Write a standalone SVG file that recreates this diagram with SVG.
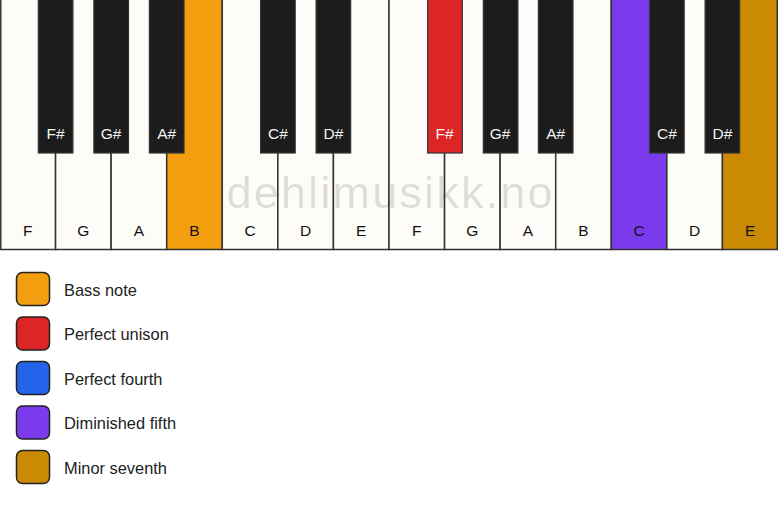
<svg xmlns="http://www.w3.org/2000/svg" width="778" height="506" viewBox="0 0 778 506">
<style>
.w{fill:#FDFCF9;stroke:#333;stroke-width:1.5}
.b{fill:#1C1C1C;stroke:#333;stroke-width:1.2}
.t{font-family:"Liberation Sans",Arial,sans-serif;font-size:15.5px;text-anchor:middle}
.wl{fill:#111}
.bl{fill:#F2F2F2}
.lg{stroke:#222;stroke-width:1.5}
.lt{font-family:"Liberation Sans",Arial,sans-serif;font-size:16.4px;fill:#222}
.wm{font-family:"Liberation Sans",Arial,sans-serif;font-size:45px;fill:#000;fill-opacity:0.12}
</style>
<rect width="778" height="506" fill="#FFFFFF"/>
<g id="white-keys">
<g id="k-F1"><rect class="w" x="0.75" y="-1" width="54.82" height="250.5"/><text class="t wl" x="27.8" y="236">F</text></g>
<g id="k-G1"><rect class="w" x="55.57" y="-1" width="55.57" height="250.5"/><text class="t wl" x="83.4" y="236">G</text></g>
<g id="k-A1"><rect class="w" x="111.14" y="-1" width="55.57" height="250.5"/><text class="t wl" x="138.9" y="236">A</text></g>
<g id="k-B1"><rect class="w" style="fill:#F39E0E" x="166.71" y="-1" width="55.57" height="250.5"/><text class="t wl" x="194.5" y="236">B</text></g>
<g id="k-C1"><rect class="w" x="222.28" y="-1" width="55.57" height="250.5"/><text class="t wl" x="250.1" y="236">C</text></g>
<g id="k-D1"><rect class="w" x="277.85" y="-1" width="55.57" height="250.5"/><text class="t wl" x="305.6" y="236">D</text></g>
<g id="k-E1"><rect class="w" x="333.42" y="-1" width="55.57" height="250.5"/><text class="t wl" x="361.2" y="236">E</text></g>
<g id="k-F2"><rect class="w" x="389" y="-1" width="55.57" height="250.5"/><text class="t wl" x="416.8" y="236">F</text></g>
<g id="k-G2"><rect class="w" x="444.57" y="-1" width="55.57" height="250.5"/><text class="t wl" x="472.4" y="236">G</text></g>
<g id="k-A2"><rect class="w" x="500.14" y="-1" width="55.57" height="250.5"/><text class="t wl" x="527.9" y="236">A</text></g>
<g id="k-B2"><rect class="w" x="555.71" y="-1" width="55.57" height="250.5"/><text class="t wl" x="583.5" y="236">B</text></g>
<g id="k-C2"><rect class="w" style="fill:#7C3AED" x="611.28" y="-1" width="55.57" height="250.5"/><text class="t wl" x="639.1" y="236">C</text></g>
<g id="k-D2"><rect class="w" x="666.85" y="-1" width="55.57" height="250.5"/><text class="t wl" x="694.6" y="236">D</text></g>
<g id="k-E2"><rect class="w" style="fill:#CA8A04" x="722.42" y="-1" width="54.83" height="250.5"/><text class="t wl" x="750.2" y="236">E</text></g>
</g>
<text class="wm" x="389.5" y="207.5" text-anchor="middle" textLength="326" lengthAdjust="spacing">dehlimusikk.no</text>
<g id="black-keys">
<g id="k-Fs1"><rect class="b" x="38.3" y="-1" width="34.6" height="154"/><text class="t bl" x="55.6" y="138.5">F#</text></g>
<g id="k-Gs1"><rect class="b" x="93.9" y="-1" width="34.6" height="154"/><text class="t bl" x="111.1" y="138.5">G#</text></g>
<g id="k-As1"><rect class="b" x="149.4" y="-1" width="34.6" height="154"/><text class="t bl" x="166.7" y="138.5">A#</text></g>
<g id="k-Cs1"><rect class="b" x="260.6" y="-1" width="34.6" height="154"/><text class="t bl" x="277.9" y="138.5">C#</text></g>
<g id="k-Ds1"><rect class="b" x="316.1" y="-1" width="34.6" height="154"/><text class="t bl" x="333.4" y="138.5">D#</text></g>
<g id="k-Fs2"><rect class="b" style="fill:#DC2626" x="427.7" y="-1" width="34.6" height="154"/><text class="t bl" x="444.6" y="138.5">F#</text></g>
<g id="k-Gs2"><rect class="b" x="483.3" y="-1" width="34.6" height="154"/><text class="t bl" x="500.1" y="138.5">G#</text></g>
<g id="k-As2"><rect class="b" x="538.4" y="-1" width="34.6" height="154"/><text class="t bl" x="555.7" y="138.5">A#</text></g>
<g id="k-Cs2"><rect class="b" x="649.6" y="-1" width="34.6" height="154"/><text class="t bl" x="666.9" y="138.5">C#</text></g>
<g id="k-Ds2"><rect class="b" x="705.1" y="-1" width="34.6" height="154"/><text class="t bl" x="722.4" y="138.5">D#</text></g>
</g>
<g id="legend">
<g id="lg-bass"><rect class="lg" x="16.5" y="272.5" width="33" height="33" rx="6" fill="#F39E0E"/><text class="lt" x="64" y="295.5">Bass note</text></g>
<g id="lg-unison"><rect class="lg" x="16.5" y="317" width="33" height="33" rx="6" fill="#DC2626"/><text class="lt" x="64" y="340">Perfect unison</text></g>
<g id="lg-fourth"><rect class="lg" x="16.5" y="361.5" width="33" height="33" rx="6" fill="#2563EB"/><text class="lt" x="64" y="384.5">Perfect fourth</text></g>
<g id="lg-dim5"><rect class="lg" x="16.5" y="406" width="33" height="33" rx="6" fill="#7C3AED"/><text class="lt" x="64" y="429">Diminished fifth</text></g>
<g id="lg-min7"><rect class="lg" x="16.5" y="450.5" width="33" height="33" rx="6" fill="#CA8A04"/><text class="lt" x="64" y="473.5">Minor seventh</text></g>
</g>
</svg>
